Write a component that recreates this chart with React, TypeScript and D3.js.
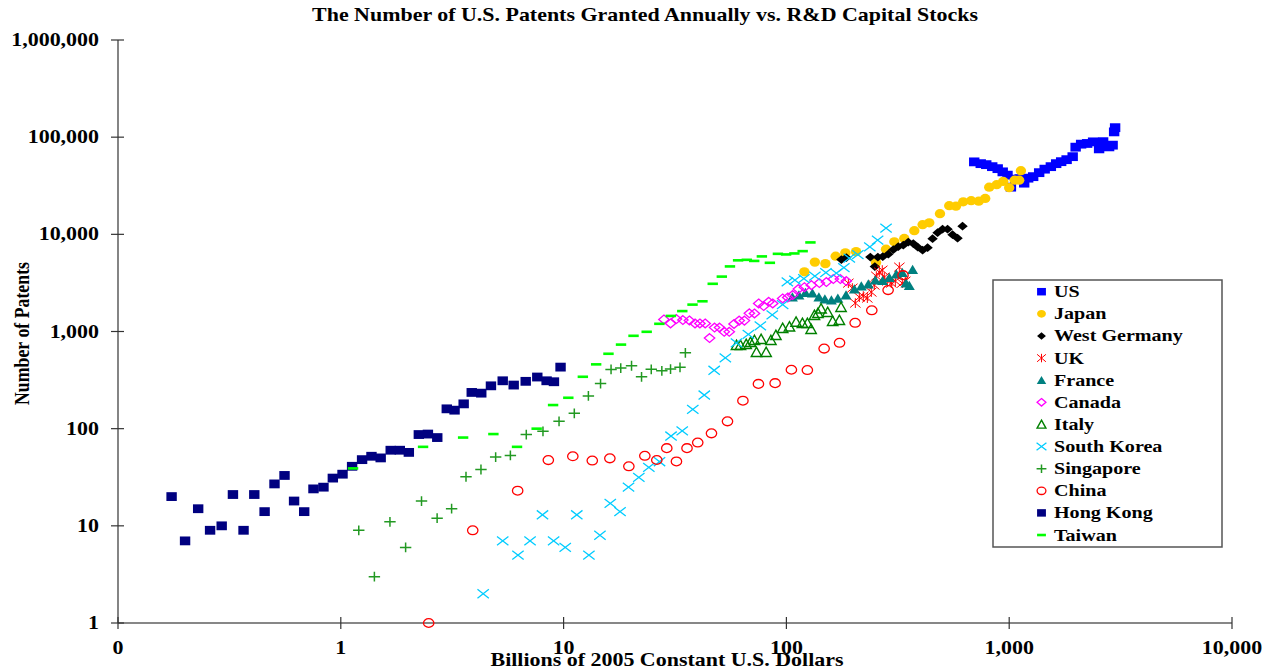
import React from 'react';
import * as d3 from 'd3';

// ---- data: [R&D capital stock (billions 2005 USD), patents granted] ----
const US: [number, number][] = [[696.7,55690],[745.2,53390],[788.8,52140],[839.1,49720],[887.9,47420],[935.2,43950],[982.7,40650],[1017.7,30590],[1064,36970],[1114.5,37410],[1167.5,33630],[1216.7,37860],[1281,39230],[1363,43130],[1443,46850],[1538,49720],[1625,53390],[1711,55950],[1810,58670],[1927,63000],[1987,78900],[2103,84730],[2238,86140],[2380,89460],[2532,75780],[2640,89870],[2808,79460],[2912,82740],[2958,113370],[2988,125240]];
const JAPAN: [number, number][] = [[120.4,4113],[134.2,5176],[149.6,4995],[166.4,5966],[183.9,6451],[205.4,6638],[252.5,5115],[280,7041],[305,8373],[338.1,9075],[375,10915],[408.6,12582],[437.8,13130],[489,16330],[538.1,19740],[576.8,19505],[621.9,21600],[675.3,22220],[729.8,21960],[780.5,23410],[813.4,30590],[878.8,32460],[939.9,35030],[1000,30230],[1058.5,36110],[1108.7,36110],[1128.6,45220]];
const WEST_GERMANY: [number, number][] = [[176.5,5493],[185.8,5759],[238.1,5827],[249.4,4653],[257.3,5827],[270.8,5896],[286.7,6256],[301.8,6959],[317.8,7471],[334.7,7743],[352.4,8313],[371.1,8024],[388.8,7383],[408.6,6877],[430.2,7297],[453,9031],[477,10410],[502.2,11310],[528.8,11310],[556.8,9929],[586.4,9140],[617.4,12145]];
const UK: [number, number][] = [[189.7,3147],[197.7,2796],[203.9,1960],[212.5,2259],[221.4,2313],[230.8,2206],[240.5,2543],[248.1,3001],[253.3,3716],[261.2,4084],[269.4,4283],[275,3628],[283.8,3300],[295.8,3147],[308.3,3300],[321.3,4598],[331.3,3147],[341.7,3300]];
const FRANCE: [number, number][] = [[106.4,2259],[113.8,2368],[121.7,2513],[130.8,2484],[139.9,2259],[148.8,2154],[159.2,2104],[170.2,2190],[185.2,2368],[201.8,2731],[216.9,2932],[233.2,3073],[250.6,3380],[270.3,3340],[289.7,3585],[311.4,3895],[331.3,4036],[344.2,3147],[356.1,2966],[368.5,4334]];
const CANADA: [number, number][] = [[28.2,1332],[30.2,1211],[32.1,1342],[34.3,1310],[36.7,1301],[38.9,1211],[40.9,1211],[43.2,1211],[45.2,855],[47.6,1097],[50.1,1097],[52.6,993],[55.4,993],[58.2,1197],[61.4,1294],[64.8,1294],[68.2,1539],[71.9,1535],[75.1,1946],[79.1,1825],[83.3,2021],[86.8,1946],[96.2,2190],[101.4,2243],[106.7,2368],[113.2,2731],[120.4,2862],[129.5,3001],[140.6,3147],[151.2,3223],[162.4,3460],[174.7,3460],[185.8,3300]];
const ITALY: [number, number][] = [[59.7,725],[62.2,725],[66.0,742],[69.0,778],[71.9,815],[73.4,614],[77.0,835],[81.1,614],[85.2,815],[89.7,918],[96.2,1084],[103.2,1123],[110.5,1258],[118,1220],[124.2,1220],[129.1,1059],[133.6,1475],[138.5,1546],[143.1,1720],[153.2,1584],[161.3,1279],[172.9,1310],[175.9,1782]];
const SOUTH_KOREA: [number, number][] = [[4.355,2],[5.33,7],[6.24,5],[7.07,7],[8.04,13],[9.02,7],[10.17,6],[11.46,13],[12.99,5],[14.56,8],[16.2,17],[17.92,14],[19.56,25],[21.76,31.5],[24.13,40],[26.95,45.7],[30.35,84],[34.07,95],[38.0,158],[42.8,222],[47.4,399],[53.2,535],[59.7,765],[67.5,934],[76.4,1144],[86.4,1482],[96.2,1887],[101,3246],[109.2,3380],[119.8,3502],[134.2,3716],[150.4,4036],[167.6,3990],[181.1,4544],[191.6,5690],[209.2,6183],[236.8,7436],[256.7,8718],[280,11580]];
const SINGAPORE: [number, number][] = [[1.204,9],[1.415,3],[1.662,11],[1.954,6],[2.303,18],[2.706,12],[3.143,15],[3.647,32],[4.257,38],[4.955,51],[5.77,53],[6.8,87],[8.08,94],[9.54,119],[11.17,144],[12.92,217],[14.65,291],[16.33,407],[18.05,420],[20.18,444],[22.38,342],[24.74,408],[27.6,394],[30.2,410],[33.3,428],[35.2,604]];
const CHINA: [number, number][] = [[2.48,1],[3.91,9],[6.22,23],[8.54,47.5],[11.0,52],[13.45,47],[16.13,49.5],[19.63,41],[23.15,52.6],[26.2,47.6],[29.05,63],[32.1,46],[35.8,63],[40.0,72],[46.1,89.5],[54.4,119],[63.8,194],[74.9,289],[89.0,294],[105.3,404],[124.2,401],[147.7,667],[173.2,765],[203.5,1229],[241.7,1652],[286.1,2667],[333.7,3803]];
const HONG_KONG: [number, number][] = [[0.174,20],[0.2,7],[0.229,15],[0.259,9],[0.292,10],[0.328,21],[0.366,9],[0.409,21],[0.455,14],[0.504,27],[0.559,33],[0.617,18],[0.685,14],[0.754,24],[0.836,25],[0.921,31],[1.018,34],[1.124,41],[1.246,48],[1.373,52],[1.51,50],[1.675,60],[1.84,60],[2.02,57],[2.24,87],[2.46,88],[2.71,81],[2.99,160],[3.24,155],[3.56,180],[3.87,236],[4.27,232],[4.72,276],[5.33,311],[5.97,281],[6.76,307],[7.62,340],[8.39,311],[9.05,304],[9.69,430]];
const TAIWAN: [number, number][] = [[1.135,39],[2.34,65],[3.54,81],[4.84,88],[6.18,65],[7.57,100],[8.97,175],[10.5,208],[12.2,342],[14.0,459],[15.9,590],[18.1,733],[20.6,903],[23.6,993],[26.9,1200],[30.3,1446],[34.1,1622],[37.9,1891],[42.0,2046],[46.7,3097],[51.3,3672],[55.8,4675],[60.7,5401],[66.4,5466],[71.7,5325],[77.6,5927],[84.3,5093],[91.6,6300],[99.7,6210],[108.6,6357],[118.3,6715],[128.2,8255]];

const SERIES_NAMES = ['US', 'Japan', 'West Germany', 'UK', 'France', 'Canada', 'Italy', 'South Korea', 'Singapore', 'China', 'Hong Kong', 'Taiwan'];
const SERIES_DATA = [US, JAPAN, WEST_GERMANY, UK, FRANCE, CANADA, ITALY, SOUTH_KOREA, SINGAPORE, CHINA, HONG_KONG, TAIWAN];
const SERIES_SHAPES = ['square', 'circle', 'diamond', 'star', 'triangle', 'odiamond', 'otriangle', 'x', 'plus', 'ocircle', 'square', 'dash'];
const SERIES_COLORS = ['#0000ff', '#ffcc00', '#000000', '#ff0000', '#008080', '#ff00ff', '#008000', '#00ccff', '#229922', '#ff0000', '#000080', '#00ff00'];

const X_TICKS = [0.1, 1, 10, 100, 1000, 10000];
const X_TICK_LABELS = ['0', '1', '10', '100', '1,000', '10,000'];
const Y_TICKS = [1, 10, 100, 1000, 10000, 100000, 1000000];
const Y_TICK_LABELS = ['1', '10', '100', '1,000', '10,000', '100,000', '1,000,000'];

const TITLE = 'The Number of U.S. Patents Granted Annually vs. R&D Capital Stocks';
const X_TITLE = 'Billions of 2005 Constant U.S. Dollars';
const Y_TITLE = 'Number of Patents';

const W = 1274;
const H = 671;
const FONT = '"Liberation Serif", "Times New Roman", serif';
const SX = 1.22;

function Marker({ shape, color, cx, cy, s = 1 }: { shape: string; color: string; cx: number; cy: number; s?: number }) {
  const hw = 5.2 * s;
  const hh = 4.4 * s;
  switch (shape) {
    case 'square':
      return <rect x={cx - hw} y={cy - hh} width={2 * hw} height={2 * hh} fill={color} />;
    case 'circle':
      return <ellipse cx={cx} cy={cy} rx={hw} ry={hh + 0.2 * s} fill={color} />;
    case 'diamond':
      return <path d={`M${cx},${cy - hh}L${cx + hw},${cy}L${cx},${cy + hh}L${cx - hw},${cy}Z`} fill={color} />;
    case 'odiamond':
      return <path d={`M${cx},${cy - hh}L${cx + hw},${cy}L${cx},${cy + hh}L${cx - hw},${cy}Z`} fill="none" stroke={color} strokeWidth={1.3} />;
    case 'triangle':
      return <path d={`M${cx},${cy - hh - 0.5}L${cx + hw + 0.3},${cy + hh}L${cx - hw - 0.3},${cy + hh}Z`} fill={color} />;
    case 'otriangle':
      return <path d={`M${cx},${cy - hh - 0.5}L${cx + hw},${cy + hh}L${cx - hw},${cy + hh}Z`} fill="none" stroke={color} strokeWidth={1.4} />;
    case 'x':
      return <path d={`M${cx - hw - 0.5},${cy - hh}L${cx + hw + 0.5},${cy + hh}M${cx + hw + 0.5},${cy - hh}L${cx - hw - 0.5},${cy + hh}`} stroke={color} strokeWidth={1.3} fill="none" />;
    case 'plus':
      return <path d={`M${cx - hw - 0.5},${cy}L${cx + hw + 0.5},${cy}M${cx},${cy - hh - 0.5}L${cx},${cy + hh + 0.5}`} stroke={color} strokeWidth={1.5} fill="none" />;
    case 'ocircle':
      return <ellipse cx={cx} cy={cy} rx={hw} ry={hh} fill="none" stroke={color} strokeWidth={1.3} />;
    case 'dash':
      return <rect x={cx - hw} y={cy - 1.3} width={2 * hw} height={2.6} fill={color} />;
    case 'star':
      return <path d={`M${cx - hw},${cy - hh}L${cx + hw},${cy + hh}M${cx + hw},${cy - hh}L${cx - hw},${cy + hh}M${cx},${cy - hh - 0.5}L${cx},${cy + hh + 0.5}`} stroke={color} strokeWidth={1} fill="none" />;
    default:
      return null;
  }
}

function SText({ x, y, children, anchor = 'start', size = 18, sx = SX }: { x: number; y: number; children: React.ReactNode; anchor?: string; size?: number; sx?: number }) {
  return (
    <text transform={`translate(${x},${y}) scale(${sx},1)`} textAnchor={anchor} fontFamily={FONT} fontWeight="bold" fontSize={size} fill="#000">
      {children}
    </text>
  );
}

export default function App() {
  const x = d3.scaleLog().domain([0.1, 10000]).range([118, 1232]);
  const y = d3.scaleLog().domain([1, 1000000]).range([623, 40]);

  const legendX = 993;
  const legendY = 280;
  const legendW = 229;
  const legendH = 267;

  return (
    <svg width={W} height={H} style={{ position: 'absolute', left: 0, top: 0, display: 'block', background: '#fff' }}>
      <rect width={W} height={H} fill="#fff" />
      <SText x={645} y={21} anchor="middle" size={18}>{TITLE}</SText>

      {/* axes */}
      <line x1={x(0.1)} x2={x(0.1)} y1={y(1000000)} y2={y(1)} stroke="#333" strokeWidth={1.2} />
      <line x1={x(0.1)} x2={x(10000)} y1={y(1)} y2={y(1)} stroke="#111" strokeWidth={1.2} />
      {Y_TICKS.map((t, i) => (
        <g key={'yt' + i}>
          <line x1={x(0.1) - 7} x2={x(0.1) + 6} y1={y(t)} y2={y(t)} stroke="#333" strokeWidth={1.2} />
          <SText x={99} y={y(t) + 6} anchor="end">{Y_TICK_LABELS[i]}</SText>
        </g>
      ))}
      {X_TICKS.map((t, i) => (
        <g key={'xt' + i}>
          <line x1={x(t)} x2={x(t)} y1={y(1) - 6} y2={y(1) + 6} stroke="#333" strokeWidth={1.2} />
          <SText x={x(t)} y={654} anchor="middle">{X_TICK_LABELS[i]}</SText>
        </g>
      ))}
      <SText x={667} y={666} anchor="middle">{X_TITLE}</SText>
      <text transform={`translate(29,333.5) rotate(-90) scale(1,${SX})`} textAnchor="middle" fontFamily={FONT} fontWeight="bold" fontSize={17.8} fill="#000">
        {Y_TITLE}
      </text>

      {/* series */}
      {SERIES_DATA.map((data, si) => (
        <g key={'s' + si}>
          {data.map((d, j) => (
            <Marker key={j} shape={SERIES_SHAPES[si]} color={SERIES_COLORS[si]} cx={x(d[0])} cy={y(d[1])} />
          ))}
        </g>
      ))}

      {/* legend */}
      <rect x={legendX} y={legendY} width={legendW} height={legendH} fill="#fff" stroke="#555" strokeWidth={1.5} />
      {SERIES_NAMES.map((name, i) => {
        const cy = 291.7 + i * 22.12;
        return (
          <g key={'lg' + i}>
            <Marker shape={SERIES_SHAPES[i]} color={SERIES_COLORS[i]} cx={1041.5} cy={cy} s={0.85} />
            <SText x={1054} y={cy + 5.5} size={16.2} sx={1.24}>{name}</SText>
          </g>
        );
      })}
    </svg>
  );
}
